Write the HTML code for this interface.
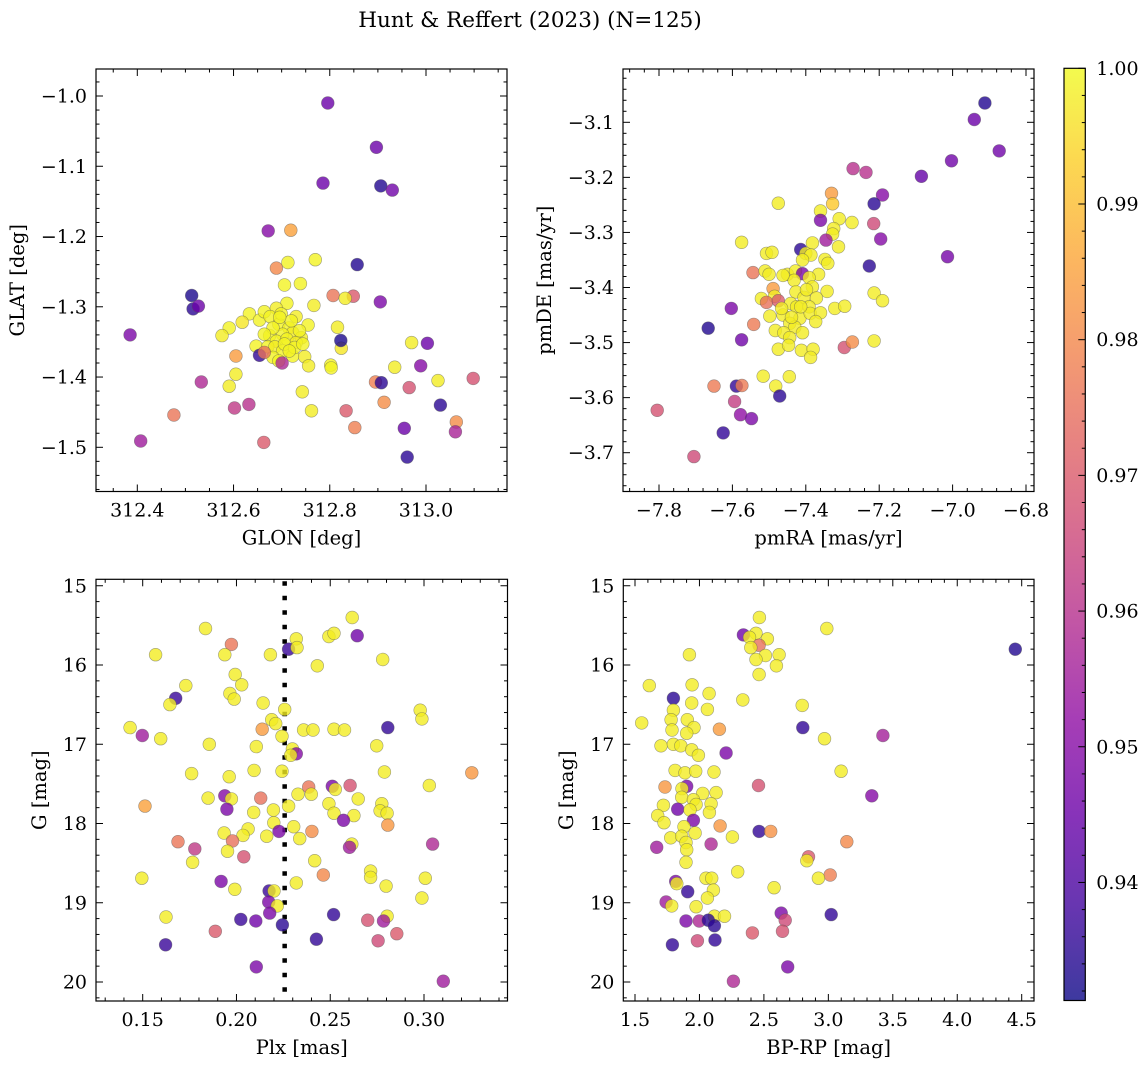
<!DOCTYPE html>
<html><head><meta charset="utf-8">
<style>
html,body{margin:0;padding:0;background:#fff;}
svg{display:block;font-family:"DejaVu Serif","Liberation Serif",serif;}
</style></head>
<body>
<svg id="fig" width="1148" height="1068" viewBox="0 0 1148 1068" xmlns="http://www.w3.org/2000/svg">
<text x="530" y="27" font-size="21.5" text-anchor="middle">Hunt &amp; Reffert (2023) (N=125)</text>
</svg>
<script>
// ---- Panel 1: GLON / GLAT ----
const p1Glon=[312.796,312.897,312.786,312.906,312.930,312.672,312.719,312.857,312.689,312.713,312.770,312.706,312.739,312.513,312.516,312.527,312.807,312.849,312.832,312.905,312.385,312.711,312.767,312.633,312.618,312.591,312.576,312.654,312.664,312.689,312.676,312.694,312.730,312.755,312.715,312.723,312.702,312.675,312.741,312.689,312.711,312.730,312.647,312.671,312.686,312.702,312.723,312.748,312.682,312.694,312.756,312.802,312.803,312.816,312.824,312.823,312.654,312.664,312.701,312.605,312.605,312.591,312.533,312.602,312.632,312.476,312.407,312.663,312.743,312.762,312.834,312.852,312.895,312.907,312.913,312.935,312.970,313.003,312.989,312.965,313.025,313.030,313.098,313.063,313.061,312.955,312.961,312.699,312.720,312.737,312.682,312.706,312.727,312.664,312.696,312.716,312.744];
const p1Glat=[-1.010,-1.073,-1.124,-1.128,-1.134,-1.192,-1.191,-1.240,-1.245,-1.237,-1.233,-1.269,-1.267,-1.284,-1.303,-1.299,-1.284,-1.285,-1.288,-1.293,-1.340,-1.295,-1.298,-1.310,-1.322,-1.330,-1.341,-1.319,-1.307,-1.302,-1.314,-1.325,-1.314,-1.326,-1.330,-1.337,-1.339,-1.341,-1.344,-1.349,-1.346,-1.351,-1.356,-1.357,-1.357,-1.363,-1.370,-1.371,-1.372,-1.377,-1.384,-1.383,-1.387,-1.329,-1.359,-1.348,-1.369,-1.365,-1.380,-1.370,-1.396,-1.413,-1.407,-1.444,-1.439,-1.454,-1.491,-1.493,-1.421,-1.448,-1.448,-1.472,-1.407,-1.408,-1.436,-1.386,-1.351,-1.352,-1.384,-1.415,-1.405,-1.440,-1.402,-1.464,-1.478,-1.473,-1.514,-1.310,-1.320,-1.334,-1.330,-1.353,-1.358,-1.339,-1.315,-1.363,-1.353];
const p1Prob=[0.945,0.945,0.945,0.934,0.946,0.950,0.985,0.934,0.980,0.999,0.999,0.999,0.999,0.933,0.935,0.945,0.976,0.970,0.998,0.948,0.948,
0.999,0.998,0.999,0.997,0.999,0.998,0.999,0.999,0.998,0.999,0.999,0.998,0.999,0.999,0.998,0.999,0.999,0.998,0.999,0.999,0.998,0.999,0.999,0.998,0.999,0.999,0.998,0.999,0.999,0.998,0.999,0.999,0.998,0.997,
0.933,0.936,0.975,0.958,0.984,0.998,0.998,0.958,0.962,0.960,0.976,0.955,0.970,0.998,0.998,0.970,0.978,0.978,0.935,0.981,0.998,0.998,0.945,0.950,0.968,0.998,0.935,0.968,0.981,0.957,0.945,0.935,
0.999,0.999,0.999,0.999,0.999,0.999,0.999,0.999,0.999,0.999];

// ---- Panel 2: pmRA / pmDE ----
const p2Pmra=[-6.912,-6.941,-6.873,-7.003,-7.085,-7.271,-7.236,-7.330,-7.191,-7.214,-7.327,-7.475,-7.360,-7.360,-7.309,-7.274,-7.215,-7.324,-7.327,-7.345,-7.196,-7.311,-7.382,-7.575,-7.414,-7.400,-7.386,-7.507,-7.492,-7.409,-7.348,-7.340,-7.014,-7.227,-7.544,-7.511,-7.500,-7.450,-7.428,-7.409,-7.365,-7.432,-7.391,-7.382,-7.342,-7.489,-7.427,-7.485,-7.521,-7.507,-7.475,-7.405,-7.371,-7.441,-7.425,-7.391,-7.214,-7.191,-7.321,-7.294,-7.603,-7.498,-7.462,-7.416,-7.388,-7.360,-7.373,-7.444,-7.430,-7.666,-7.542,-7.483,-7.460,-7.409,-7.444,-7.575,-7.475,-7.447,-7.412,-7.380,-7.387,-7.295,-7.273,-7.214,-7.516,-7.445,-7.482,-7.471,-7.650,-7.589,-7.574,-7.594,-7.578,-7.548,-7.625,-7.805,-7.705,-7.462,-7.398,-7.439,-7.414,-7.466];
const p2Pmde=[-3.065,-3.095,-3.152,-3.170,-3.198,-3.184,-3.191,-3.229,-3.232,-3.248,-3.248,-3.247,-3.261,-3.278,-3.275,-3.282,-3.284,-3.293,-3.303,-3.314,-3.312,-3.326,-3.319,-3.318,-3.331,-3.338,-3.341,-3.338,-3.336,-3.350,-3.349,-3.356,-3.344,-3.361,-3.373,-3.370,-3.376,-3.376,-3.370,-3.375,-3.376,-3.387,-3.382,-3.399,-3.407,-3.402,-3.408,-3.416,-3.420,-3.427,-3.424,-3.418,-3.419,-3.429,-3.435,-3.435,-3.410,-3.424,-3.438,-3.434,-3.438,-3.452,-3.450,-3.456,-3.447,-3.446,-3.462,-3.465,-3.472,-3.474,-3.467,-3.478,-3.482,-3.482,-3.491,-3.495,-3.512,-3.505,-3.514,-3.512,-3.527,-3.509,-3.499,-3.497,-3.561,-3.562,-3.579,-3.597,-3.579,-3.579,-3.578,-3.607,-3.631,-3.638,-3.664,-3.623,-3.707,-3.378,-3.404,-3.454,-3.435,-3.438];
const p2Prob=[0.934,0.945,0.946,0.946,0.944,0.960,0.960,0.984,0.950,0.935,0.992,0.998,0.998,0.948,0.998,0.998,0.966,0.998,0.998,0.955,0.950,0.998,0.998,0.998,0.935,
0.998,0.998,0.998,0.998,0.998,0.998,0.998,0.947,0.935,0.976,0.998,0.998,0.998,0.998,0.948,0.998,0.998,0.998,0.998,0.998,0.984,0.998,0.998,0.998,0.975,0.970,
0.998,0.998,0.998,0.998,0.998,0.998,0.998,0.998,0.998,0.948,0.998,0.998,0.998,0.998,0.998,0.998,0.998,0.998,0.934,0.977,0.998,0.998,0.998,0.998,0.946,
0.998,0.998,0.998,0.998,0.998,0.968,0.981,0.998,0.998,0.998,0.998,0.935,0.977,0.936,0.977,0.963,0.952,0.948,0.936,0.968,0.966,0.998,0.998,0.998,0.998,0.998];

// ---- Panel 3: Plx / G ----
const p3Plx=[0.2617,0.1835,0.2644,0.2493,0.2520,0.2319,0.1973,0.2278,0.2323,0.1569,0.1938,0.2181,0.2780,0.2431,0.1993,0.2028,0.1730,0.1965,0.1988,0.1676,0.1645,0.2142,0.2257,0.2980,0.2989,0.2188,0.2209,0.1433,0.2137,0.2358,0.2408,0.2520,0.2576,0.2807,0.1498,0.1596,0.2243,0.1855,0.2106,0.2748,0.2298,0.2319,0.2289,0.1761,0.2094,0.2243,0.2789,0.3255,0.1961,0.3028,0.2385,0.2511,0.2527,0.2606,0.2328,0.2399,0.1938,0.1973,0.1849,0.2129,0.2649,0.1512,0.2493,0.2278,0.2775,0.1949,0.2092,0.2197,0.2520,0.2766,0.2803,0.2626,0.2571,0.2199,0.2807,0.2305,0.2062,0.2227,0.2402,0.1934,0.2035,0.2161,0.2337,0.1979,0.1688,0.3046,0.2615,0.2603,0.1778,0.1952,0.2039,0.2417,0.1766,0.2715,0.2715,0.2463,0.3007,0.1495,0.1918,0.2319,0.2798,0.1991,0.2174,0.2200,0.2989,0.2172,0.2218,0.2177,0.2023,0.2103,0.2245,0.2518,0.1624,0.2803,0.2784,0.2700,0.2855,0.1887,0.2755,0.2426,0.1622,0.2106,0.3103];
const p3G=[15.40,15.54,15.63,15.64,15.60,15.67,15.74,15.80,15.78,15.87,15.87,15.87,15.93,16.01,16.12,16.25,16.26,16.36,16.43,16.42,16.50,16.48,16.56,16.57,16.68,16.69,16.74,16.79,16.81,16.82,16.82,16.81,16.82,16.79,16.89,16.93,16.90,17.00,17.03,17.02,17.06,17.12,17.14,17.37,17.33,17.34,17.35,17.36,17.41,17.52,17.54,17.53,17.57,17.52,17.63,17.63,17.65,17.69,17.68,17.68,17.69,17.78,17.75,17.78,17.75,17.82,17.86,17.83,17.87,17.84,17.87,17.90,17.96,17.99,18.02,18.04,18.07,18.10,18.10,18.12,18.15,18.16,18.19,18.22,18.23,18.26,18.26,18.30,18.32,18.35,18.42,18.47,18.49,18.60,18.68,18.65,18.69,18.69,18.73,18.75,18.79,18.83,18.85,18.85,18.94,18.99,19.04,19.13,19.21,19.23,19.28,19.15,19.18,19.17,19.23,19.22,19.39,19.36,19.48,19.46,19.53,19.81,19.99];
const p3Prob=[0.998,0.998,0.946,0.998,0.998,0.998,0.976,0.937,0.998,0.998,
0.998,0.998,0.998,0.998,0.998,0.998,0.998,0.998,0.998,0.937,
0.998,0.998,0.998,0.998,0.998,0.998,0.998,0.998,0.984,0.998,
0.998,0.998,0.998,0.936,0.955,0.998,0.998,0.998,0.998,0.998,
0.998,0.950,0.998,0.998,0.998,0.998,0.998,0.983,0.998,0.998,
0.976,0.948,0.998,0.968,0.998,0.998,0.950,0.998,0.998,0.975,
0.998,0.985,0.998,0.998,0.998,0.948,0.998,0.998,0.998,0.998,
0.998,0.998,0.948,0.998,0.983,0.998,0.998,0.948,0.981,0.998,
0.998,0.998,0.998,0.975,0.976,0.958,0.998,0.955,0.962,0.998,
0.968,0.998,0.998,0.998,0.998,0.980,0.998,0.998,0.948,0.998,
0.998,0.998,0.937,0.998,0.998,0.948,0.998,0.948,0.937,0.946,
0.935,0.936,0.998,0.998,0.955,0.968,0.970,0.970,0.966,0.936,
0.937,0.948,0.955];
const p3PlxRef=[0.2257];

// ---- Panel 4: BP-RP / G ----
const p4Bprp=[2.465,2.988,2.341,2.439,2.388,2.527,2.463,2.398,2.618,1.922,2.512,2.439,2.597,2.463,4.450,1.611,1.943,2.075,1.798,2.336,1.940,2.797,2.062,1.798,1.552,1.780,1.906,2.155,2.802,1.787,1.958,1.901,3.423,2.970,1.702,1.798,1.855,1.940,1.992,2.207,3.099,1.811,1.888,1.971,2.113,1.733,2.458,1.901,1.865,3.337,2.025,2.129,1.862,1.953,1.720,1.831,1.974,2.090,1.927,2.077,1.676,1.725,1.953,2.160,1.880,2.463,2.553,1.966,2.256,1.777,1.862,3.143,1.668,2.090,1.896,1.901,2.846,2.833,1.896,2.297,3.014,2.923,2.051,2.095,1.816,1.824,2.579,2.108,1.909,2.062,1.741,1.785,1.974,2.634,3.022,2.116,2.194,1.896,1.999,2.069,2.116,2.665,2.644,2.411,1.790,1.984,2.121,2.685,2.263];
const p4G=[15.40,15.54,15.62,15.60,15.65,15.67,15.75,15.78,15.87,15.87,15.88,15.93,16.01,16.12,15.80,16.26,16.25,16.36,16.42,16.44,16.48,16.51,16.56,16.57,16.73,16.69,16.69,16.81,16.79,16.82,16.79,16.86,16.89,16.93,17.02,17.00,17.02,17.07,17.14,17.11,17.34,17.33,17.36,17.34,17.35,17.54,17.52,17.53,17.56,17.65,17.62,17.61,17.67,17.70,17.77,17.82,17.76,17.75,17.83,17.86,17.90,17.99,17.96,18.03,18.04,18.10,18.10,18.12,18.17,18.18,18.16,18.23,18.30,18.26,18.24,18.33,18.42,18.47,18.49,18.61,18.65,18.69,18.69,18.69,18.73,18.76,18.81,18.84,18.86,18.94,18.99,19.04,19.05,19.13,19.15,19.17,19.17,19.23,19.23,19.22,19.29,19.22,19.36,19.38,19.53,19.48,19.47,19.81,19.99];
const p4Prob=[0.998,0.998,0.946,0.998,0.998,0.998,0.975,0.998,0.998,0.998,
0.998,0.998,0.998,0.998,0.934,0.998,0.998,0.998,0.935,0.998,
0.998,0.998,0.998,0.998,0.998,0.998,0.998,0.984,0.936,0.998,
0.998,0.998,0.956,0.998,0.998,0.998,0.998,0.998,0.998,0.948,
0.998,0.998,0.998,0.998,0.998,0.983,0.968,0.948,0.998,0.950,
0.998,0.998,0.998,0.998,0.998,0.946,0.998,0.998,0.998,0.998,
0.998,0.998,0.948,0.983,0.998,0.936,0.982,0.998,0.998,0.998,
0.998,0.980,0.955,0.958,0.998,0.998,0.970,0.998,0.998,0.998,
0.978,0.998,0.998,0.998,0.948,0.998,0.998,0.998,0.936,0.998,
0.955,0.998,0.998,0.948,0.936,0.998,0.998,0.948,0.958,0.935,
0.935,0.966,0.968,0.970,0.936,0.966,0.936,0.948,0.958];

// ---- Colorbar ----
const cbarTicks=[0.94,0.95,0.96,0.97,0.98,0.99,1.00];
const cbarMin=0.9313, cbarMax=1.0;

const NS="http://www.w3.org/2000/svg";
const svg=document.getElementById('fig');
function mk(tag,attrs,parent){const e=document.createElementNS(NS,tag);for(const k in attrs)e.setAttribute(k,attrs[k]);(parent||svg).appendChild(e);return e;}

const plasma=[[13,8,135],[65,4,157],[106,0,168],[143,13,164],[177,42,144],[204,71,120],[225,100,98],[242,132,75],[252,166,54],[252,206,37],[240,249,33]];
function cmap(t){t=Math.max(0,Math.min(1,t));const f=t*10,i=Math.min(9,Math.floor(f)),r=f-i;const a=plasma[i],b=plasma[i+1];
 return 'rgb('+[0,1,2].map(k=>Math.round(a[k]+(b[k]-a[k])*r)).join(',')+')';}
function colorOf(p){return cmap((p-cbarMin)/(cbarMax-cbarMin));}
function lin(v0,p0,v1,p1){const s=(p1-p0)/(v1-v0);const f=v=>p0+(v-v0)*s;f.inv=p=>v0+(p-p0)/s;return f;}
function fmt(v,d){const s=Math.abs(v).toFixed(d);return (v< -1e-9?'\u2212':'')+s;}

function panel(cfg){
 const g=mk('g',{});
 
 
 const {x0,x1,y0,y1}=cfg;
 const X=cfg.X,Y=cfg.Y;
 const clipId=cfg.name+'-clip';
 const cp=mk('clipPath',{id:clipId},g);mk('rect',{x:x0,y:y0,width:x1-x0,height:y1-y0},cp);
 const pts=mk('g',{'clip-path':'url(#'+clipId+')'},g);
 
 
 if(cfg.vline!==undefined){
  const l=mk('line',{x1:X(cfg.vline),x2:X(cfg.vline),y1:y0+2,y2:y1,stroke:'#000','stroke-width':4.5,'stroke-dasharray':'4.5 10'},pts);
  
  
 }
 const n=Math.min(cfg.xs.length,cfg.ys.length,cfg.cs.length);
 for(let i=0;i<n;i++){
  const c=mk('circle',{cx:X(cfg.xs[i]).toFixed(1),cy:Y(cfg.ys[i]).toFixed(1),r:6.4,fill:colorOf(cfg.cs[i]),'fill-opacity':0.8,stroke:'#555','stroke-opacity':0.55,'stroke-width':0.6},pts);
  
  
 }
 const tk=mk('g',{stroke:'#000','stroke-width':1},g);
 
 
 function ticks(lo,hi,step){const a=[];let v=Math.ceil(lo/step-1e-6)*step;for(;v<=hi+1e-9;v+=step)a.push(+v.toFixed(6));return a;}
 const xl=Math.min(X.inv(x0),X.inv(x1)),xh=Math.max(X.inv(x0),X.inv(x1));
 const yl=Math.min(Y.inv(y0),Y.inv(y1)),yh=Math.max(Y.inv(y0),Y.inv(y1));
 const isMaj=(v,st)=>Math.abs(v/st-Math.round(v/st))<1e-4;
 ticks(xl,xh,cfg.xmin).forEach(v=>{const p=X(v);const L=isMaj(v,cfg.xmaj)?7:3.5;
  mk('line',{x1:p,x2:p,y1:y1,y2:y1-L},tk);mk('line',{x1:p,x2:p,y1:y0,y2:y0+L},tk);});
 ticks(yl,yh,cfg.ymin).forEach(v=>{const p=Y(v);const L=isMaj(v,cfg.ymaj)?7:3.5;
  mk('line',{x1:x0,x2:x0+L,y1:p,y2:p},tk);mk('line',{x1:x1,x2:x1-L,y1:p,y2:p},tk);});
 const lab=mk('g',{'font-size':19,fill:'#000'},g);
 
 
 ticks(xl,xh,cfg.xmaj).forEach(v=>{const t=mk('text',{x:X(v),y:y1+25,'text-anchor':'middle'},lab);t.textContent=fmt(v,cfg.xd);});
 ticks(yl,yh,cfg.ymaj).forEach(v=>{const t=mk('text',{x:x0-9,y:Y(v)+6.5,'text-anchor':'end'},lab);t.textContent=fmt(v,cfg.yd);});
 const fr=mk('rect',{x:x0,y:y0,width:x1-x0,height:y1-y0,fill:'none',stroke:'#000','stroke-width':1.2},g);
 
 
 const xt=mk('text',{x:(x0+x1)/2,y:y1+53,'text-anchor':'middle','font-size':19.5},g);xt.textContent=cfg.xlabel;
 
 
 const yt=mk('text',{x:0,y:0,'text-anchor':'middle','font-size':19.5,transform:'translate('+cfg.ylx+','+(y0+y1)/2+') rotate(-90)'},g);yt.textContent=cfg.ylabel;
 
 
}

panel({name:'glon-glat-panel',x0:96,x1:507,y0:69,y1:491.5,X:lin(312.4,137.3,313.0,426),Y:lin(-1.0,96,-1.5,447.3),
 xs:p1Glon,ys:p1Glat,cs:p1Prob,xmaj:0.2,xmin:0.05,ymaj:0.1,ymin:0.02,xd:1,yd:1,xlabel:'GLON [deg]',ylabel:'GLAT [deg]',ylx:24});
panel({name:'pm-panel',x0:623,x1:1034,y0:69,y1:491.5,X:lin(-7.8,659,-6.8,1026),Y:lin(-3.1,122.3,-3.7,452.7),
 xs:p2Pmra,ys:p2Pmde,cs:p2Prob,xmaj:0.2,xmin:0.04,ymaj:0.1,ymin:0.02,xd:1,yd:1,xlabel:'pmRA [mas/yr]',ylabel:'pmDE [mas/yr]',ylx:551});
panel({name:'plx-g-panel',x0:96,x1:507.5,y0:579.3,y1:1001,X:lin(0.15,142.7,0.30,424),Y:lin(16,665,20,982),
 xs:p3Plx,ys:p3G,cs:p3Prob,vline:p3PlxRef[0],xmaj:0.05,xmin:0.01,ymaj:1,ymin:0.2,xd:2,yd:0,xlabel:'Plx [mas]',ylabel:'G [mag]',ylx:46});
panel({name:'cmd-panel',x0:623.3,x1:1034,y0:579.3,y1:1001,X:lin(1.5,635,4.5,1021.7),Y:lin(16,665,20,982),
 xs:p4Bprp,ys:p4G,cs:p4Prob,xmaj:0.5,xmin:0.1,ymaj:1,ymin:0.2,xd:1,yd:0,xlabel:'BP-RP [mag]',ylabel:'G [mag]',ylx:573});

(function(){
 const cx0=1064,cx1=1085.3,cy0=68.3,cy1=1000.5;
 const g=mk('g',{});
 
 
 const defs=mk('defs',{},g);
 const gr=mk('linearGradient',{id:'cbgrad',x1:0,y1:1,x2:0,y2:0},defs);
 for(let i=0;i<=20;i++){mk('stop',{offset:(i/20),'stop-color':cmap(i/20),'stop-opacity':0.8},gr);}
 mk('rect',{x:cx0,y:cy0,width:cx1-cx0,height:cy1-cy0,fill:'url(#cbgrad)'},g);
 const Y=lin(cbarMin,cy1,cbarMax,cy0);
 const tk=mk('g',{stroke:'#000','stroke-width':1},g);
 for(let k=0;k<=35;k++){const v=0.932+k*0.002;if(v>cbarMax+1e-9)break;const p=Y(v);
  const maj=Math.abs(v*100-Math.round(v*100))<1e-4;mk('line',{x1:cx1,x2:cx1-(maj?7:3.5),y1:p,y2:p},tk);}
 cbarTicks.forEach(v=>{const t=mk('text',{x:cx1+11,y:Y(v)+6.5,'font-size':19},g);t.textContent=v.toFixed(2);
  
  });
 mk('rect',{x:cx0,y:cy0,width:cx1-cx0,height:cy1-cy0,fill:'none',stroke:'#000','stroke-width':1.2},g);
})();
</script>
</body></html>
